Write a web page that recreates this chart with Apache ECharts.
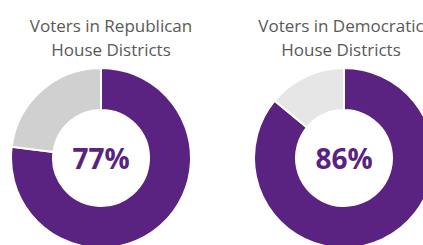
<!DOCTYPE html>
<html>
<head>
<meta charset="utf-8">
<script src="https://cdn.jsdelivr.net/npm/echarts@6/dist/echarts.min.js"></script>
<style>
  html, body { margin: 0; padding: 0; background: #fff; }
  #chart { width: 423px; height: 245px; }
</style>
</head>
<body>
<div id="chart"></div>
<script>
const groups = ['Voters in Republican\nHouse Districts', 'Voters in Democratic\nHouse Districts'];
const sharePct = [77, 86];
const otherColors = ['#d0d0d0', '#e6e6e6'];

const centers = [[101, 158], [344, 158]];
const titleX = [106, 336];

const chart = echarts.init(document.getElementById('chart'), null, { renderer: 'svg' });

const font = '"Open Sans", "Noto Sans", sans-serif';

chart.setOption({
  animation: false,
  backgroundColor: '#ffffff',
  title: groups.map((g, i) => ({
    text: g,
    left: titleX[i],
    top: 8,
    textAlign: 'center',
    textStyle: {
      fontFamily: font,
      fontSize: 17,
      fontWeight: 'normal',
      color: '#595959',
      lineHeight: 24
    }
  })),
  series: sharePct.map((v, i) => ({
    type: 'pie',
    center: centers[i],
    radius: [48, 90],
    startAngle: 90,
    clockwise: true,
    silent: true,
    label: {
      show: true,
      position: 'center',
      formatter: () => v + '%',
      fontFamily: font,
      fontSize: 28,
      fontWeight: 'bold',
      color: '#5b2381'
    },
    labelLine: { show: false },
    itemStyle: { borderColor: '#fff', borderWidth: 2 },
    data: [
      { value: v, name: 'share', itemStyle: { color: '#5b2381' } },
      { value: 100 - v, name: 'other', itemStyle: { color: otherColors[i] }, label: { show: false } }
    ]
  }))
});
</script>
</body>
</html>
